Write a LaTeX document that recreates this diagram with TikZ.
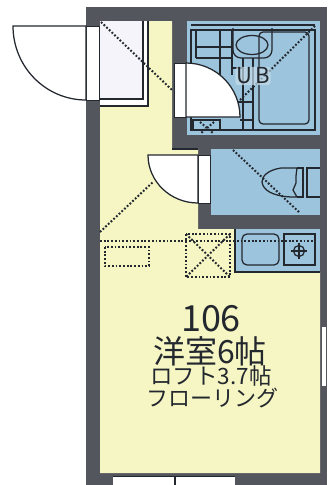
\documentclass[tikz,border=0pt]{standalone}
\usepackage{fontspec}
\newfontfamily\jpfont{Noto Sans CJK JP}
\definecolor{wallc}{HTML}{54565E}
\definecolor{roomc}{HTML}{F6F6C4}
\definecolor{wetc}{HTML}{9CC4DC}
\definecolor{inkc}{HTML}{23272E}
\definecolor{closetc}{HTML}{F4F4FA}
\tikzset{
  wall/.style={fill=wallc,draw=none},
  room/.style={fill=roomc,draw=none},
  wet/.style={fill=wetc,draw=none},
  ink/.style={draw=inkc,line width=1.25pt},
  dots/.style={draw=inkc,line width=2pt,dash pattern=on 1.8pt off 1.9pt},
  swing/.style={fill=white,draw=inkc,line width=1.25pt},
  gap/.style={fill=white,draw=inkc,line width=0.9pt},
  lab/.style={inner sep=0pt,text=inkc}
}
\begin{document}
\begin{tikzpicture}[x=1pt,y=-1pt]
\useasboundingbox (0,0) rectangle (327,485);
\fill[white] (0,0) rectangle (327,485);
% walls
\fill[wall] (86,7) rectangle (327,485);
% rooms
\path[room] (148,21) -- (172,21) -- (172,149) -- (198,149) -- (198,229) -- (235,229) -- (235,272) -- (320,272) -- (320,473) -- (100,473) -- (100,106) -- (148,106) -- cycle;
\path[fill=closetc] (100,21) rectangle (143,99);
\fill[white] (143,21) rectangle (148,106);
\fill[white] (100,99) rectangle (148,106);
\path[wet] (187,21) rectangle (320,135);
\path[wet] (211,149) rectangle (320,215);
\path[wet] (235,229) rectangle (320,272);
% closet lines
\draw[ink] (100,99) -- (143,99) -- (143,21);
\draw[ink] (100,106) -- (148,106) -- (148,21);
% bathroom fixtures
\draw[ink] (191,30) rectangle (315,130);
\draw[ink] (191,25) -- (315,25);
\draw[ink,rounded corners=4pt] (259,32) rectangle (309,124);
\draw[ink,rounded corners=8pt] (233,28) -- (233,58) -- (272,58) -- (272,28);
\draw[ink] (252,45) ellipse (16 and 9.5);
\draw[ink] (196,30) -- (196,58) (220,30) -- (220,75) (232,30) -- (232,75);
\draw[ink] (196,47) -- (233,47) (196,58) -- (233,58) (232,68) -- (243,68);
\draw[ink] (243,58) -- (243,130) (253,58) -- (253,130);
\draw[ink] (238,102) -- (253,102) (240,120) -- (253,120);
\draw[ink] (193,120) rectangle (220,130);
\draw[dots] (200,122) -- (214,134) (214,122) -- (200,134);
\draw[dots] (240,100) -- (316,25);
\draw[dots] (101,22) -- (172,90);
% toilet
\draw[ink,fill=wetc] (297,168) -- (281,168) .. controls (268,170) and (262,176) .. (262,182) .. controls (263,190) and (272,196) .. (291,197) -- (297,197) -- (293,190) -- (296,183) -- (296,176) -- cycle;
\draw[ink] (297,168) -- (303,168) -- (303,197) -- (297,197);
\draw[ink] (320,168) -- (307,168) -- (307,197) -- (320,197);
\draw[dots] (233,150) -- (300,213);
% entry dotted
\draw[dots] (100,232) -- (153,182);
% doors
\draw[gap] (86,26) rectangle (99,100);
\draw[swing] (86,26) -- (13,26) arc[start angle=180,end angle=270,x radius=73,y radius=-74] -- cycle;
\draw[gap] (174,63) rectangle (186,117);
\draw[swing] (186,117) -- (186,63) arc[start angle=90,end angle=0,x radius=54,y radius=-54] -- cycle;
\draw[gap] (198,155) rectangle (210,203);
\draw[swing] (198,155) -- (148,155) arc[start angle=180,end angle=270,x radius=50,y radius=-48] -- cycle;
\draw[ink] (172,149) -- (198,149);
% kitchen
\draw[ink] (235,229) -- (235,272) -- (320,272);
\draw[ink,rounded corners=5pt] (242,234) rectangle (279,265);
\draw[ink] (284,234) rectangle (315,265);
\draw[ink] (299,251) circle (5.5);
\draw[ink] (291,251) -- (307,251) (299,243) -- (299,259);
% dotted kitchen items
\draw[dots] (100,241) -- (316,241);
\draw[dots] (105,247) rectangle (149,266);
\draw[dots] (186,234) rectangle (230,277);
\draw[dots] (186,234) -- (230,277) (230,234) -- (186,277);
% window right
\fill[white] (322,327) rectangle (326,386);
% bottom window
\fill[white] (113,476) rectangle (235,485);
\draw[ink] (113,476.5) -- (235,476.5);
\draw[ink] (175,476) -- (175,485);
% labels
\node[inner sep=1pt,rounded corners=3pt,fill=wetc!60!white,fill opacity=0.7,text opacity=1,text=inkc,font=\fontsize{22}{22}\selectfont\jpfont] (ub) at (253,76) {U\kern3pt B};
\node[lab,font=\fontsize{36}{36}\selectfont\jpfont] (n) at (211,319) {106};
\node[lab,font=\fontsize{32}{32}\selectfont\jpfont] (r) at (210,351) {洋室6帖};
\node[lab,font=\fontsize{22.5}{22.5}\selectfont\jpfont] (l) at (211,376) {ロフト3.7帖};
\node[lab,font=\fontsize{22}{22}\selectfont\jpfont] (f) at (212,398) {フローリング};
\end{tikzpicture}
\end{document}
